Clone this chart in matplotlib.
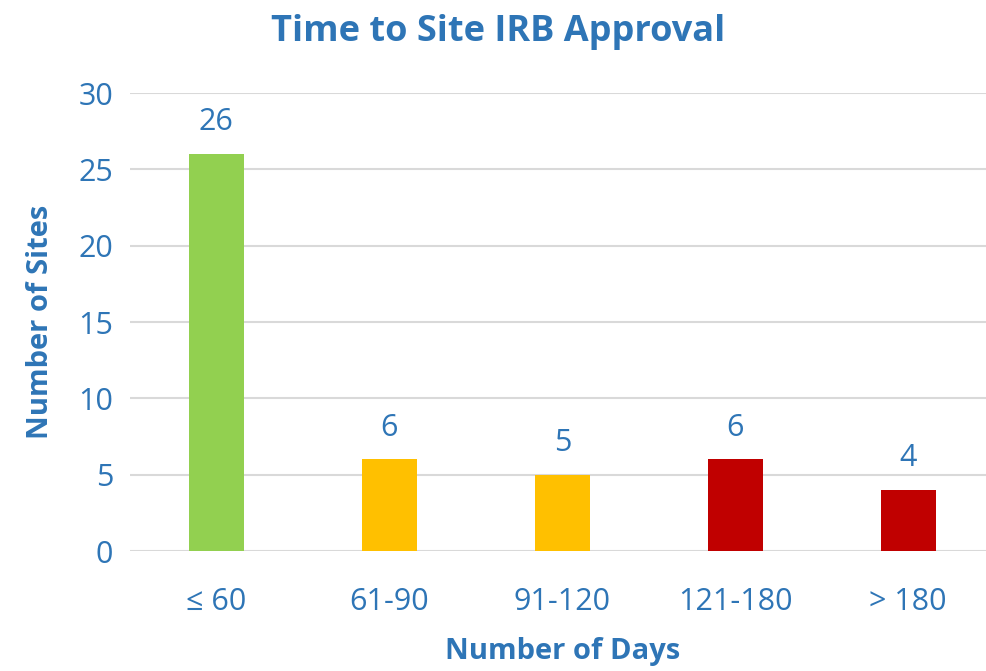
import matplotlib
matplotlib.use("Agg")
import matplotlib.pyplot as plt

# data
categories = ["\u2264 60", "61-90", "91-120", "121-180", "> 180"]
sites = [26, 6, 5, 6, 4]
bar_colors = ["#92D050", "#FFC000", "#FFC000", "#C00000", "#C00000"]

blue = "#2E75B6"
grid = "#D9D9D9"

plt.rcParams['font.family'] = ['Open Sans', 'DejaVu Sans']

fig = plt.figure(figsize=(9.86, 6.71), dpi=100)
ax = fig.add_axes([0.1318, 0.1788, 0.877, 0.6826])

x = range(len(categories))
bars = ax.bar(x, sites, width=0.32, color=bar_colors, zorder=3)

# value labels above bars
for b, v in zip(bars, sites):
    ax.text(b.get_x() + b.get_width() / 2, v + 1.1, str(v), ha="center",
            va="bottom", fontsize=22, color=blue)

ax.set_xlim(-0.5, 4.5)
ax.set_ylim(0, 30)
ax.set_yticks(range(0, 31, 5))
ax.set_xticks(list(x))
ax.set_xticklabels(categories)
ax.tick_params(axis="both", length=0, labelsize=22, labelcolor=blue)
ax.tick_params(axis="x", pad=26)
ax.tick_params(axis="y", pad=12)

ax.yaxis.grid(True, color=grid, linewidth=1.5, zorder=0)
for s in ax.spines.values():
    s.set_visible(False)

ax.set_ylabel("Number of Sites", fontsize=21, fontweight="bold", color=blue, labelpad=17)
ax.set_xlabel("Number of Days", fontsize=21, fontweight="bold", color=blue, labelpad=14)
fig.text(0.505, 0.953, "Time to Site IRB Approval", ha="center", va="center",
         fontsize=26, fontweight="bold", color=blue)

fig.savefig("out.png", dpi=100)
